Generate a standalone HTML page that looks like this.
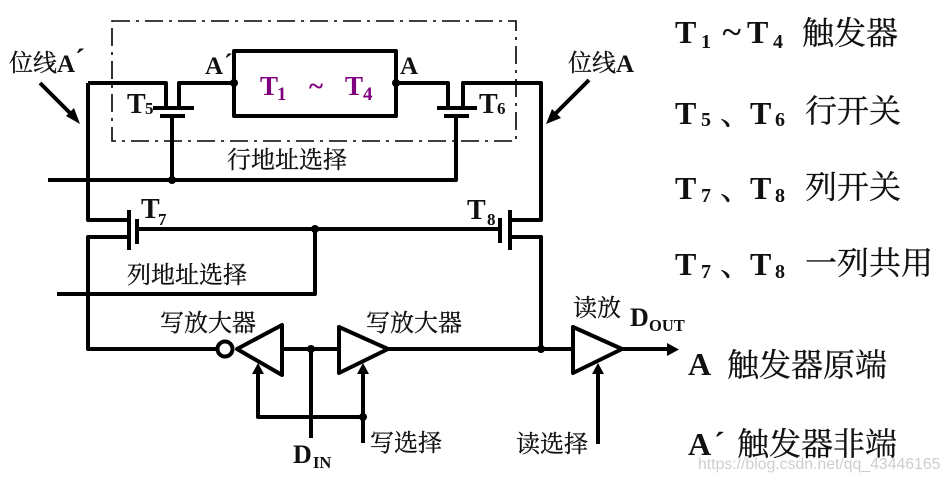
<!DOCTYPE html>
<html lang="zh">
<head>
<meta charset="utf-8">
<title>Diagram</title>
<style>
html,body{margin:0;padding:0;background:#fff;width:951px;height:482px;overflow:hidden}
svg{display:block}
text{fill:#111}
.c{font-family:"Liberation Serif","Noto Serif CJK SC",serif;font-weight:400;stroke:#111;stroke-width:.3px}
.b{font-family:"Liberation Serif","Noto Serif CJK SC",serif;font-weight:700}
.p{fill:#800080}
.w{fill:none;stroke:#000;stroke-width:4;stroke-linejoin:round;stroke-linecap:butt}
</style>
</head>
<body>
<svg width="951" height="482" viewBox="0 0 951 482" xmlns="http://www.w3.org/2000/svg">
<rect x="112" y="21" width="404" height="120" fill="none" stroke="#000" stroke-width="1.6" stroke-dasharray="18 6 3 6"/>

<rect x="234" y="51" width="162" height="65" class="w"/>

<!-- T5 -->
<path class="w" d="M88 83H166V108M179 108V83H234"/>
<path class="w" d="M88 83V220H129M129 237H88V349H218"/>
<path class="w" d="M153 108H194M160 116H185M172 116V180"/>
<!-- T6 -->
<path class="w" d="M396 83H448V108M463 108V83H541V220H510M510 237H541V349"/>
<path class="w" d="M437 108H477M444 116H469M456 116V180H48"/>
<!-- T7 T8 -->
<path class="w" d="M129 210V250M137 219V244M137 229H500M500 218V243M510 210V250"/>
<path class="w" d="M315 229V294H57"/>

<!-- amplifiers -->
<circle cx="225" cy="349" r="7.5" fill="#fff" stroke="#000" stroke-width="4"/>
<path class="w" d="M237 349L282 325V375Z" fill="#fff"/>
<path class="w" d="M282 349H340"/>
<path class="w" d="M339 327L388 349L339 373Z" fill="#fff"/>
<path class="w" d="M388 349H573"/>
<path class="w" d="M573 327L622 349L573 373Z" fill="#fff"/>
<path class="w" d="M622 349H668"/>
<path d="M667 343L679 349.500L667 356Z" fill="#000"/>

<path class="w" d="M311 349V438"/>
<path class="w" d="M258 372V417H363M363 372V443"/>
<path d="M258 363L252 374H264Z" fill="#000"/>
<path d="M363 363L357 374H369Z" fill="#000"/>
<path class="w" d="M598 372V444"/>
<path d="M598 363L592 374H604Z" fill="#000"/>

<!-- dots -->
<g fill="#000">
<circle cx="234" cy="83" r="4"/>
<circle cx="396" cy="83" r="4"/>
<circle cx="172" cy="180" r="4"/>
<circle cx="315" cy="229" r="4"/>
<circle cx="311" cy="349" r="4"/>
<circle cx="363" cy="417" r="4"/>
<circle cx="541" cy="349" r="4"/>
</g>

<!-- pointer arrows -->
<path class="w" d="M40 83L74 117"/>
<path d="M80 124L66 116L74 108Z" fill="#000"/>
<path class="w" d="M589 80L553 116"/>
<path d="M546 124L552 109L561 118Z" fill="#000"/>

<!-- diagram labels -->
<text class="c" x="9" y="71" font-size="24">位线</text>
<text class="b" x="57" y="72" font-size="25">A</text>
<text class="b" x="75" y="69" font-size="30">´</text>
<text class="c" x="568" y="71" font-size="24">位线</text>
<text class="b" x="616" y="72" font-size="25">A</text>

<text class="b" x="205" y="74" font-size="25">A</text>
<text class="b" x="224" y="72" font-size="26">´</text>
<text class="b" x="400" y="74" font-size="25">A</text>

<text class="b p" x="260" y="95" font-size="27">T</text>
<text class="b p" x="277" y="100" font-size="19">1</text>
<text class="b p" x="309" y="95" font-size="27">~</text>
<text class="b p" x="345" y="95" font-size="27">T</text>
<text class="b p" x="363" y="100" font-size="19">4</text>

<text class="b" x="127" y="113" font-size="28">T</text>
<text class="b" x="145" y="114" font-size="17">5</text>
<text class="b" x="479" y="113" font-size="28">T</text>
<text class="b" x="497" y="114" font-size="17">6</text>
<text class="b" x="141" y="218" font-size="28">T</text>
<text class="b" x="158" y="225" font-size="17">7</text>
<text class="b" x="467" y="219" font-size="28">T</text>
<text class="b" x="487" y="225" font-size="17">8</text>

<text class="c" x="227" y="168" font-size="24">行地址选择</text>
<text class="c" x="127" y="283" font-size="24">列地址选择</text>
<text class="c" x="160" y="331" font-size="24">写放大器</text>
<text class="c" x="366" y="331" font-size="24">写放大器</text>
<text class="c" x="573" y="316" font-size="24">读放</text>
<text class="c" x="370" y="451" font-size="24">写选择</text>
<text class="c" x="516" y="452" font-size="24">读选择</text>

<text class="b" x="630" y="326" font-size="26">D</text>
<text class="b" x="649" y="331" font-size="16.500">OUT</text>
<text class="b" x="293" y="463" font-size="26">D</text>
<text class="b" x="313" y="468" font-size="16.500">IN</text>

<!-- legend -->
<text class="b" x="675" y="43" font-size="32">T</text>
<text class="b" x="701" y="48" font-size="20">1</text>
<text class="c" x="722" y="44" font-size="36">~</text>
<text class="b" x="747" y="43" font-size="32">T</text>
<text class="b" x="773" y="48" font-size="20">4</text>
<text class="c" x="802" y="44" font-size="32">触发器</text>

<text class="b" x="675" y="124" font-size="32">T</text>
<text class="b" x="701" y="126" font-size="20">5</text>
<text class="c" x="720" y="124" font-size="32">、</text>
<text class="b" x="750" y="124" font-size="32">T</text>
<text class="b" x="775" y="126" font-size="20">6</text>
<text class="c" x="805" y="122" font-size="32">行开关</text>

<text class="b" x="675" y="199" font-size="32">T</text>
<text class="b" x="701" y="202" font-size="20">7</text>
<text class="c" x="720" y="199" font-size="32">、</text>
<text class="b" x="750" y="199" font-size="32">T</text>
<text class="b" x="775" y="202" font-size="20">8</text>
<text class="c" x="805" y="198" font-size="32">列开关</text>

<text class="b" x="675" y="275" font-size="32">T</text>
<text class="b" x="701" y="278" font-size="20">7</text>
<text class="c" x="720" y="275" font-size="32">、</text>
<text class="b" x="750" y="275" font-size="32">T</text>
<text class="b" x="775" y="278" font-size="20">8</text>
<text class="c" x="805" y="274" font-size="32">一列共用</text>

<text class="b" x="688" y="375" font-size="32">A</text>
<text class="c" x="727" y="376" font-size="32">触发器原端</text>
<text class="b" x="688" y="455" font-size="32">A</text>
<text class="b" x="714" y="454" font-size="32">´</text>
<text class="c" x="737" y="455" font-size="32">触发器非端</text>

<text x="698" y="469" font-family="'Liberation Sans',sans-serif" font-size="15.800" style="fill:#000;fill-opacity:.2">https://blog.csdn.net/qq_43446165</text>
</svg>
</body>
</html>
